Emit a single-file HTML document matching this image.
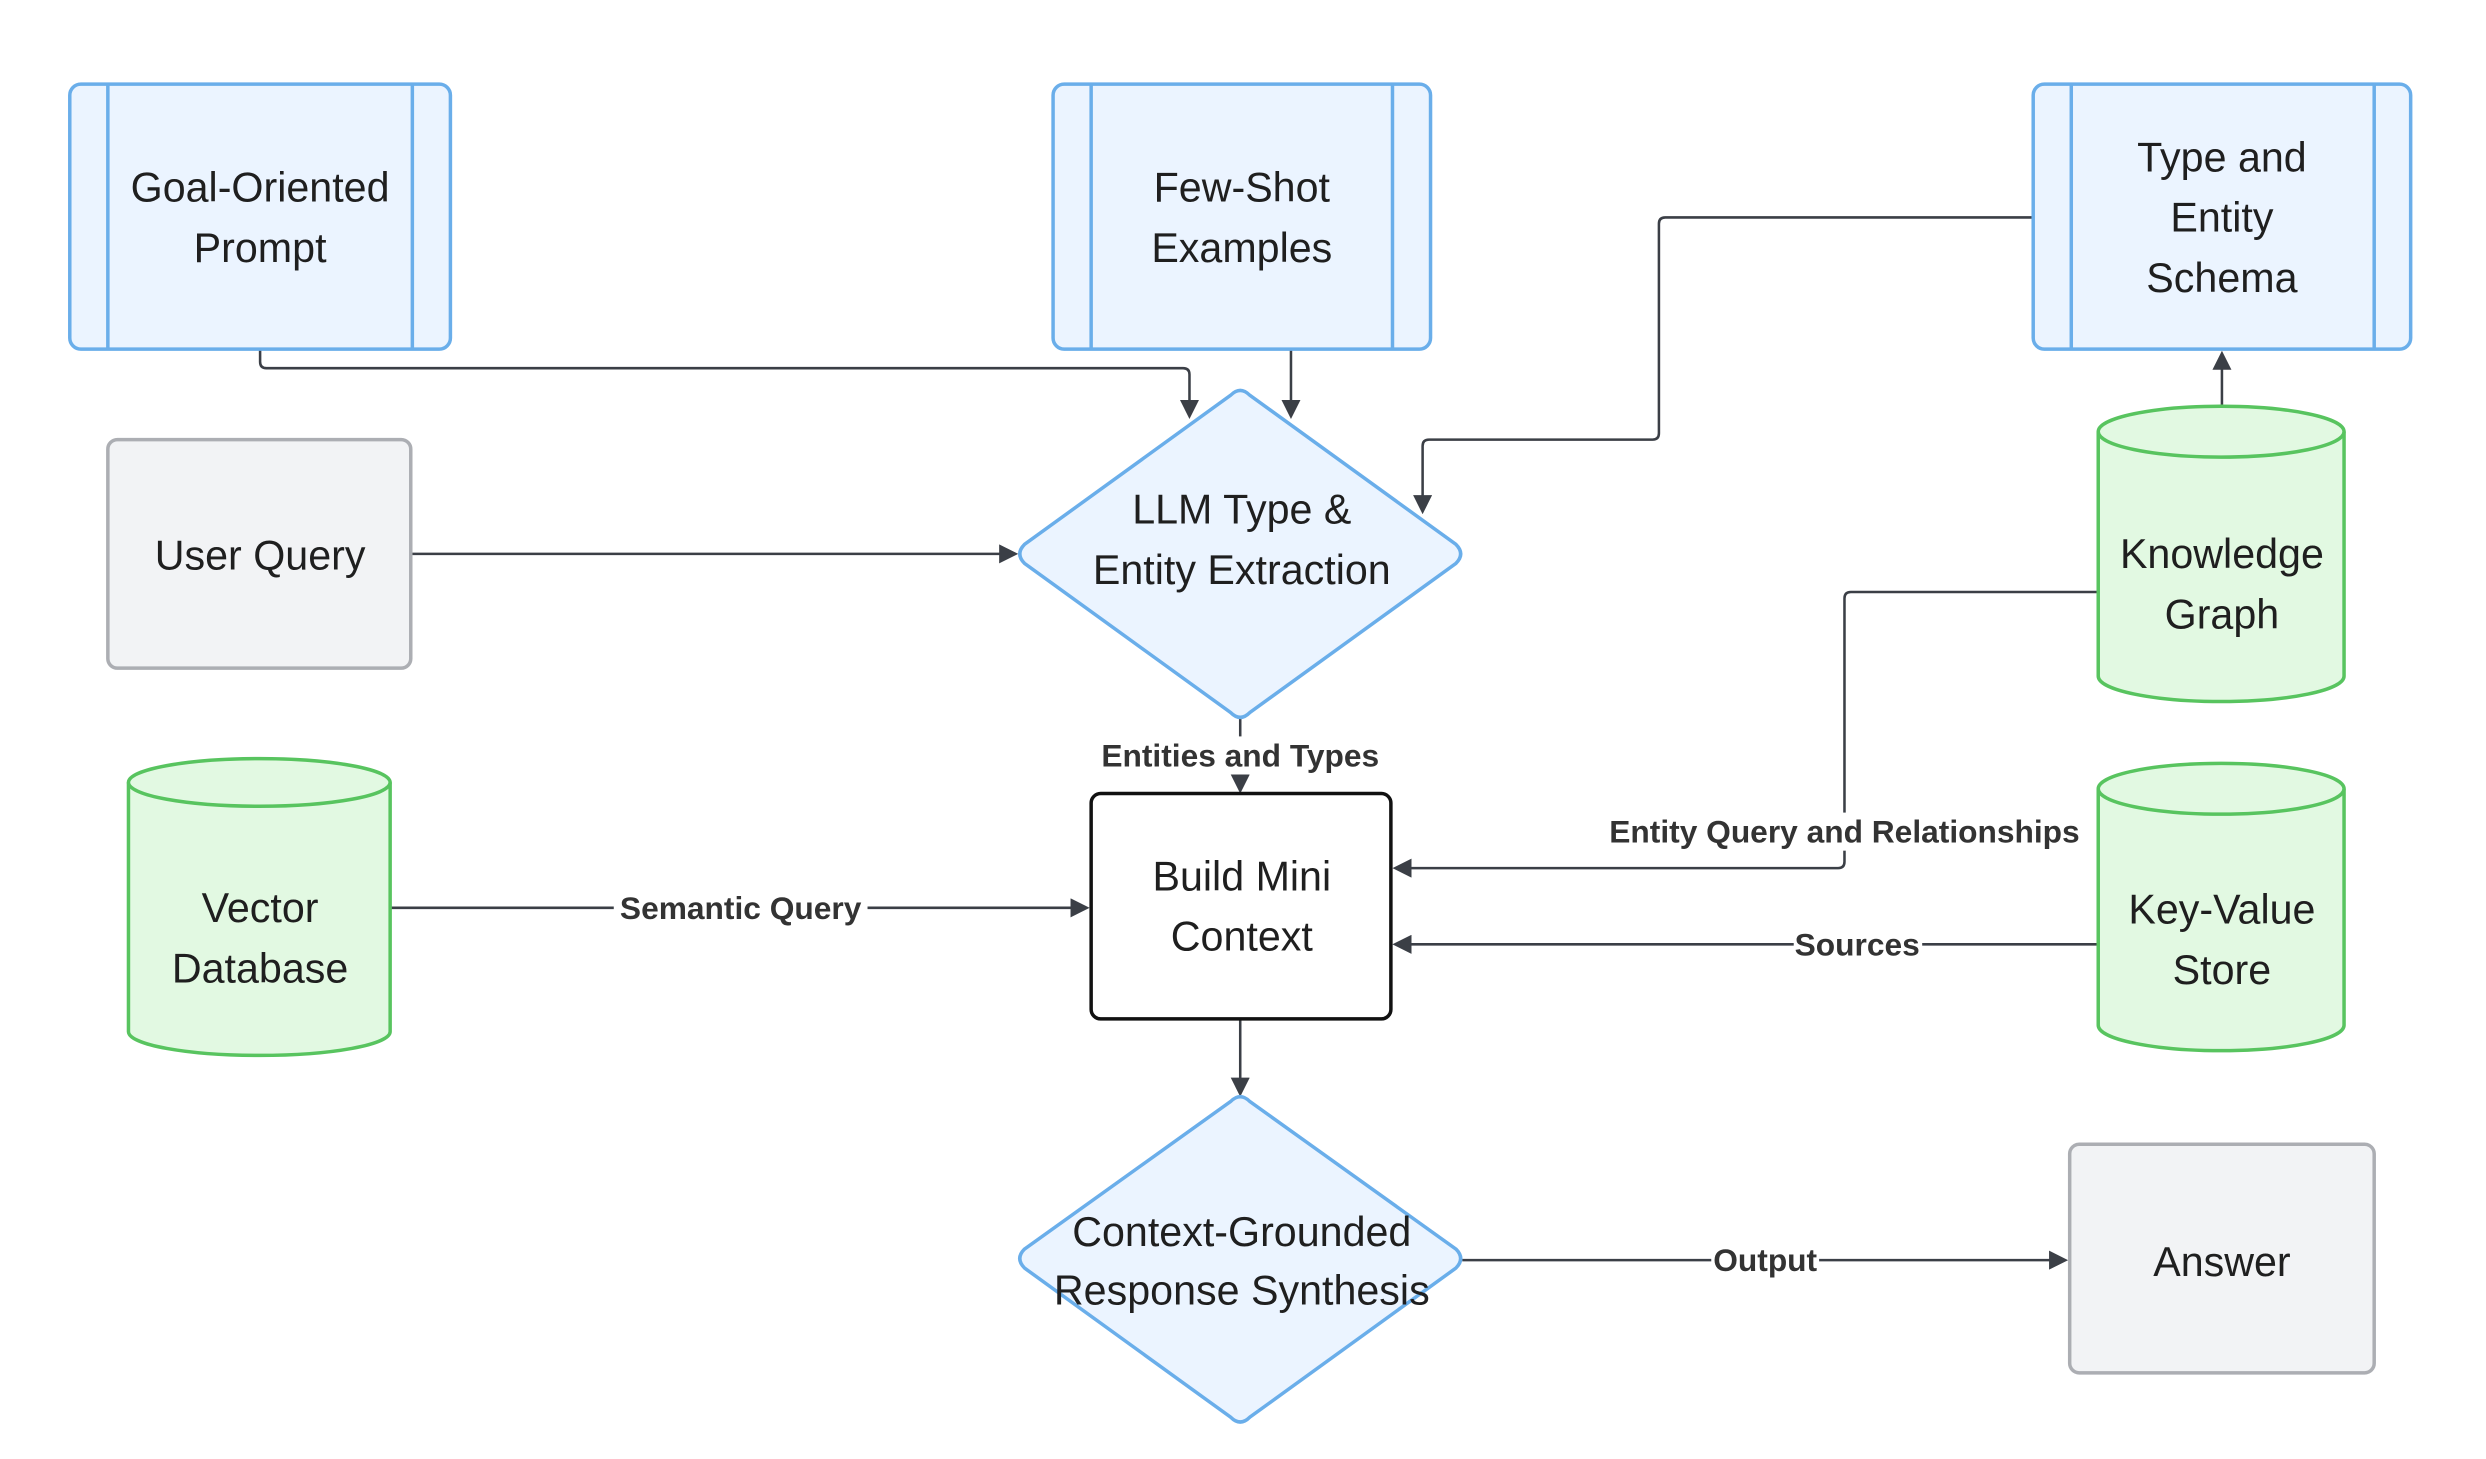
<!DOCTYPE html>
<html><head><meta charset="utf-8"><style>
html,body{margin:0;padding:0;background:#fff;}
svg{display:block;}
text{font-family:"Liberation Sans","DejaVu Sans",sans-serif;fill:#1f1f1f;}
.n{font-size:26px;text-anchor:middle;}
.e{font-size:20px;font-weight:bold;text-anchor:middle;fill:#333;}
.blue{fill:#ebf4ff;stroke:#6aaeea;stroke-width:2.2;}
.green{fill:#e2f9e2;stroke:#58c45f;stroke-width:2.2;}
.gray{fill:#f2f3f5;stroke:#acaeb3;stroke-width:2.2;}
.ln{fill:none;stroke:#3b3f46;stroke-width:1.6;}
.lb{fill:#fff;}
</style></head><body>
<svg width="2486" height="1459" viewBox="0 0 1567.5 919.3" preserveAspectRatio="none" xmlns="http://www.w3.org/2000/svg">
<defs><marker id="a" markerWidth="12" markerHeight="12" refX="10" refY="6" orient="auto" markerUnits="userSpaceOnUse"><path d="M0,0 L12,6 L0,12 z" fill="#3b3f46"/></marker></defs>

<path class="ln" d="M164,220 V228 Q164,232 168,232 H746 Q750,232 750,236 V262" marker-end="url(#a)"/>
<path class="ln" d="M814,220 V262" marker-end="url(#a)"/>
<path class="ln" d="M1282,137 H1050 Q1046,137 1046,141 V273 Q1046,277 1042,277 H901 Q897,277 897,281 V322" marker-end="url(#a)"/>
<path class="ln" d="M259,349 H640" marker-end="url(#a)"/>
<path class="ln" d="M782,453 V498" marker-end="url(#a)"/>
<path class="ln" d="M246,572 H685" marker-end="url(#a)"/>
<path class="ln" d="M1323,373 H1167 Q1163,373 1163,377 V543 Q1163,547 1159,547 H880" marker-end="url(#a)"/>
<path class="ln" d="M1323,595 H880" marker-end="url(#a)"/>
<path class="ln" d="M782,642 V689" marker-end="url(#a)"/>
<path class="ln" d="M922,794 H1302" marker-end="url(#a)"/>
<path class="ln" d="M1401,255 V223" marker-end="url(#a)"/>

<rect class="lb" x="688" y="464" width="188" height="24"/><text class="e" x="782" y="483">Entities and Types</text>
<rect class="lb" x="387" y="560" width="160" height="24"/><text class="e" x="467" y="579">Semantic Query</text>
<rect class="lb" x="1005" y="512" width="316" height="24"/><text class="e" x="1163" y="531">Entity Query and Relationships</text>
<rect class="lb" x="1131" y="583" width="81" height="24"/><text class="e" x="1171" y="602">Sources</text>
<rect class="lb" x="1079" y="782" width="68" height="24"/><text class="e" x="1113" y="801">Output</text>

<g>
<rect class="blue" x="44" y="53" width="240" height="167" rx="7"/>
<line class="blue" x1="68" y1="53" x2="68" y2="220"/><line class="blue" x1="260" y1="53" x2="260" y2="220"/>
<text class="n" x="164" y="127">Goal-Oriented</text><text class="n" x="164" y="165">Prompt</text>
</g>
<g>
<rect class="blue" x="664" y="53" width="238" height="167" rx="7"/>
<line class="blue" x1="688" y1="53" x2="688" y2="220"/><line class="blue" x1="878" y1="53" x2="878" y2="220"/>
<text class="n" x="783" y="127">Few-Shot</text><text class="n" x="783" y="165">Examples</text>
</g>
<g>
<rect class="blue" x="1282" y="53" width="238" height="167" rx="7"/>
<line class="blue" x1="1306" y1="53" x2="1306" y2="220"/><line class="blue" x1="1497" y1="53" x2="1497" y2="220"/>
<text class="n" x="1401" y="108">Type and</text><text class="n" x="1401" y="146">Entity</text><text class="n" x="1401" y="184">Schema</text>
</g>

<rect class="gray" x="68" y="277" width="191" height="144" rx="6"/>
<text class="n" x="164" y="359">User Query</text>

<path class="blue" d="M776,249 Q782,243 788,249 L918,343 Q924,349 918,355 L788,449 Q782,455 776,449 L646,355 Q640,349 646,343 Z"/>
<text class="n" x="783" y="330">LLM Type &amp;</text><text class="n" x="783" y="368">Entity Extraction</text>

<path class="green" d="M81,493 V650 A82.5,15 0 0 0 246,650 V493"/>
<ellipse class="green" cx="163.5" cy="493" rx="82.5" ry="15"/>
<text class="n" x="164" y="581">Vector</text><text class="n" x="164" y="619">Database</text>

<rect x="688" y="500" width="189" height="142" rx="6" fill="#fff" stroke="#111" stroke-width="2.2"/>
<text class="n" x="783" y="561">Build Mini</text><text class="n" x="783" y="599">Context</text>

<path class="green" d="M1323,272 V426 A77.5,16 0 0 0 1478,426 V272"/>
<ellipse class="green" cx="1400.5" cy="272" rx="77.5" ry="16"/>
<text class="n" x="1401" y="358">Knowledge</text><text class="n" x="1401" y="396">Graph</text>

<path class="green" d="M1323,497 V646 A77.5,16 0 0 0 1478,646 V497"/>
<ellipse class="green" cx="1400.5" cy="497" rx="77.5" ry="16"/>
<text class="n" x="1401" y="582">Key-Value</text><text class="n" x="1401" y="620">Store</text>

<path class="blue" d="M776,694 Q782,688 788,694 L918,787 Q924,793 918,799 L788,893 Q782,899 776,893 L646,799 Q640,793 646,787 Z"/>
<text class="n" x="783" y="785">Context-Grounded</text><text class="n" x="783" y="822">Response Synthesis</text>

<rect class="gray" x="1305" y="721" width="192" height="144" rx="6"/>
<text class="n" x="1401" y="804">Answer</text>
</svg>
</body></html>
